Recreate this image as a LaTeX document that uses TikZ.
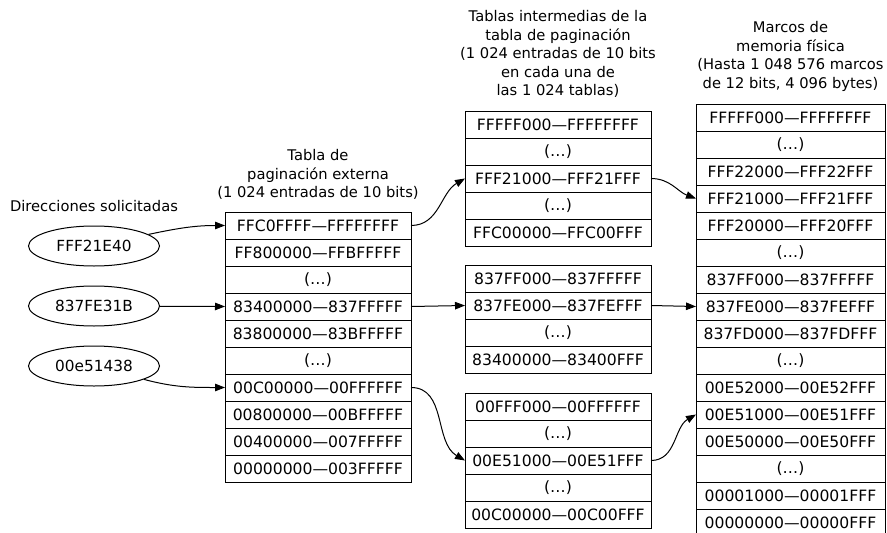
\documentclass[tikz,border=0pt]{standalone}
\usepackage{fontspec}
\setmainfont{DejaVu Sans}
\usetikzlibrary{shapes.geometric, arrows.meta, positioning}
\newcommand{\rango}[2]{#1\textemdash#2}
\newcommand{\puntos}{(\ldots)}

\begin{document}
\begin{tikzpicture}[
    x=1pt, y=-1pt,
    row/.style={rectangle, draw, line width=1pt, minimum width=186pt,
        minimum height=27pt, inner sep=0pt, outer sep=0pt,
        font=\fontsize{15.6}{18}\selectfont},
    frame/.style={row, minimum width=189pt},
    addr/.style={ellipse, draw, line width=1pt, minimum width=131pt,
        minimum height=40pt, inner sep=0pt, font=\fontsize{15.3}{18}\selectfont},
    title/.style={align=center, font=\fontsize{14.7}{18.5}\selectfont},
    arr/.style={-{Triangle[length=10pt,width=7.5pt]}, line width=1pt},
    node distance=0pt
]
\useasboundingbox (0,0) rectangle (887,533);

% direcciones solicitadas
\node[addr] (D1) at (94,246) {FFF21E40};
\node[addr, below=19pt of D1] (D2) {837FE31B};
\node[addr, below=19pt of D2] (D3) {00e51438};
\node[title, above=10pt of D1] (TD) {Direcciones solicitadas};

% tabla de paginacion externa
\node[row] (X1) at (318,225.5) {\rango{FFC0FFFF}{FFFFFFFF}};
\node[row, below=of X1] (X2) {\rango{FF800000}{FFBFFFFF}};
\node[row, below=of X2] (X3) {\puntos};
\node[row, below=of X3] (X4) {\rango{83400000}{837FFFFF}};
\node[row, below=of X4] (X5) {\rango{83800000}{83BFFFFF}};
\node[row, below=of X5] (X6) {\puntos};
\node[row, below=of X6] (X7) {\rango{00C00000}{00FFFFFF}};
\node[row, below=of X7] (X8) {\rango{00800000}{00BFFFFF}};
\node[row, below=of X8] (X9) {\rango{00400000}{007FFFFF}};
\node[row, below=of X9] (X10) {\rango{00000000}{003FFFFF}};
\node[title, above=9pt of X1] (TX) {Tabla de\\paginación externa\\(1 024 entradas de 10 bits)};

% tablas intermedias
\node[row] (A1) at (558,124.5) {\rango{FFFFF000}{FFFFFFFF}};
\node[row, below=of A1] (A2) {\puntos};
\node[row, below=of A2] (A3) {\rango{FFF21000}{FFF21FFF}};
\node[row, below=of A3] (A4) {\puntos};
\node[row, below=of A4] (A5) {\rango{FFC00000}{FFC00FFF}};
\node[title, above=10pt of A1] (TA) {Tablas intermedias de la\\tabla de paginación\\(1 024 entradas de 10 bits\\en cada una de\\las 1 024 tablas)};

\node[row] (B1) at (558,278.5) {\rango{837FF000}{837FFFFF}};
\node[row, below=of B1] (B2) {\rango{837FE000}{837FEFFF}};
\node[row, below=of B2] (B3) {\puntos};
\node[row, below=of B3] (B4) {\rango{83400000}{83400FFF}};

\node[row] (C1) at (558,406.5) {\rango{00FFF000}{00FFFFFF}};
\node[row, below=of C1] (C2) {\puntos};
\node[row, below=of C2] (C3) {\rango{00E51000}{00E51FFF}};
\node[row, below=of C3] (C4) {\puntos};
\node[row, below=of C4] (C5) {\rango{00C00000}{00C00FFF}};

% marcos de memoria fisica
\node[frame] (M1) at (790.5,117.5) {\rango{FFFFF000}{FFFFFFFF}};
\node[frame, below=of M1] (M2) {\puntos};
\node[frame, below=of M2] (M3) {\rango{FFF22000}{FFF22FFF}};
\node[frame, below=of M3] (M4) {\rango{FFF21000}{FFF21FFF}};
\node[frame, below=of M4] (M5) {\rango{FFF20000}{FFF20FFF}};
\node[frame, below=of M5] (M6) {\puntos};
\node[frame, below=of M6] (M7) {\rango{837FF000}{837FFFFF}};
\node[frame, below=of M7] (M8) {\rango{837FE000}{837FEFFF}};
\node[frame, below=of M8] (M9) {\rango{837FD000}{837FDFFF}};
\node[frame, below=of M9] (M10) {\puntos};
\node[frame, below=of M10] (M11) {\rango{00E52000}{00E52FFF}};
\node[frame, below=of M11] (M12) {\rango{00E51000}{00E51FFF}};
\node[frame, below=of M12] (M13) {\rango{00E50000}{00E50FFF}};
\node[frame, below=of M13] (M14) {\puntos};
\node[frame, below=of M14] (M15) {\rango{00001000}{00001FFF}};
\node[frame, below=of M15] (M16) {\rango{00000000}{00000FFF}};
\node[title, above=9pt of M1] (TM) {Marcos de\\memoria física\\(Hasta 1 048 576 marcos\\de 12 bits, 4 096 bytes)};

\draw[arr] (D1) to[out=12, in=180] (X1.west);
\draw[arr] (D2) -- (X4.west);
\draw[arr] (D3) to[out=-15, in=180] (X7.west);
\draw[arr] (X1.east) to[out=0, in=210] (A3.west);
\draw[arr] (X4.east) -- (B2.west);
\draw[arr] (X7.east) to[out=0, in=150] (C3.west);
\draw[arr] (A3.east) to[out=0, in=160] (M4.west);
\draw[arr] (B2.east) -- (M8.west);
\draw[arr] (C3.east) to[out=0, in=210] (M12.west);
\end{tikzpicture}
\end{document}
